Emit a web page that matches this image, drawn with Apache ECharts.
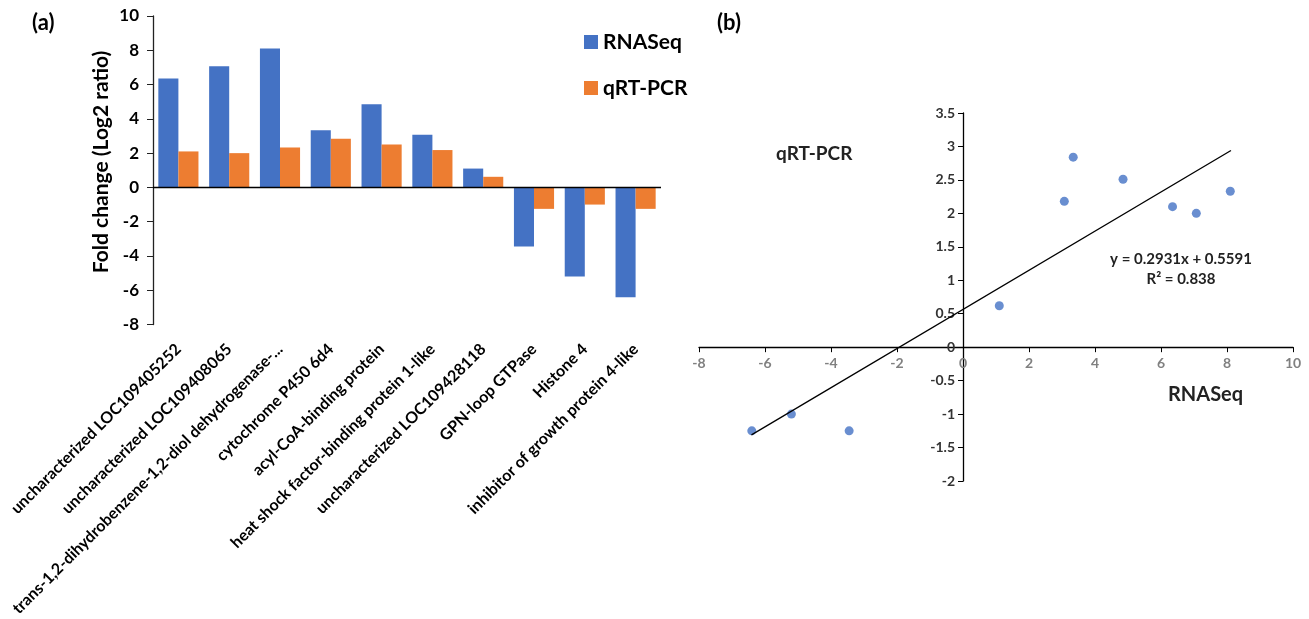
<!DOCTYPE html>
<html>
<head>
<meta charset="utf-8">
<script src="https://cdn.jsdelivr.net/npm/echarts@6/dist/echarts.min.js"></script>
<style>
  html, body { margin: 0; padding: 0; background: #fff; }
  #chart { width: 1309px; height: 619px; }
</style>
</head>
<body>
<div id="chart"></div>
<script>
// gene names (panel a)
const genes = [
  'uncharacterized LOC109405252',
  'uncharacterized LOC109408065',
  'trans-1,2-dihydrobenzene-1,2-diol dehydrogenase-...',
  'cytochrome P450 6d4',
  'acyl-CoA-binding protein',
  'heat shock factor-binding protein 1-like',
  'uncharacterized LOC109428118',
  'GPN-loop GTPase',
  'Histone 4',
  'inhibitor of growth protein 4-like'
];
// log2 fold change
const rnaSeq = [6.35, 7.07, 8.1, 3.34, 4.85, 3.07, 1.1, -3.45, -5.2, -6.4];
const qrtPcr = [2.1, 2.0, 2.33, 2.84, 2.51, 2.18, 0.62, -1.25, -1.0, -1.25];
// trend line end points (panel b)
const trendX = [-6.41, 8.12];
const trendY = [-1.31, 2.94];

const FONT = 'Lato';
const BLUE = '#4472C4';
const ORANGE = '#ED7D31';

// panel b plot box; axes cross at 0 so shift them in from the edges
const B = { left: 699, top: 113, width: 594, height: 368 };
const bxMin = -8, bxMax = 10, byMin = -2, byMax = 3.5;
const yAxisShift = B.width * (0 - bxMin) / (bxMax - bxMin);
const xAxisShift = B.height * (0 - byMin) / (byMax - byMin);

const chart = echarts.init(document.getElementById('chart'));

const option = {
  animation: false,
  textStyle: { fontFamily: FONT },
  legend: {
    data: ['RNASeq', 'qRT-PCR'],
    orient: 'vertical',
    left: 584,
    top: 31,
    padding: 0,
    itemWidth: 14,
    itemHeight: 14,
    itemGap: 24,
    icon: 'rect',
    textStyle: { fontFamily: FONT, fontSize: 21, fontWeight: 'bold', color: '#000', lineHeight: 22 }
  },
  grid: [
    { left: 153, top: 16, width: 508, height: 311 },
    B
  ],
  xAxis: [
    {
      type: 'category',
      gridIndex: 0,
      data: genes,
      axisLine: { show: false },
      axisTick: { show: false },
      axisLabel: {
        interval: 0,
        rotate: 45,
        margin: 22,
        fontFamily: FONT,
        fontSize: 16,
        fontWeight: 'bold',
        color: '#000'
      }
    },
    {
      type: 'value',
      gridIndex: 1,
      min: bxMin,
      max: bxMax,
      interval: 2,
      position: 'bottom',
      offset: -xAxisShift,
      axisLine: { onZero: false, lineStyle: { color: '#000', width: 1.3 } },
      axisTick: { length: 5, lineStyle: { color: '#000' } },
      axisLabel: { fontFamily: FONT, fontSize: 14, fontWeight: 'bold', color: '#808080', margin: 9 },
      splitLine: { show: false }
    }
  ],
  yAxis: [
    {
      type: 'value',
      gridIndex: 0,
      min: -8,
      max: 10,
      interval: 2,
      axisLine: { show: true, onZero: false, lineStyle: { color: '#222', width: 1.3 } },
      axisTick: { show: true, length: 6, lineStyle: { color: '#222' } },
      axisLabel: { fontFamily: FONT, fontSize: 17, fontWeight: 'bold', color: '#000', margin: 14 },
      splitLine: { show: false }
    },
    {
      type: 'value',
      gridIndex: 1,
      min: byMin,
      max: byMax,
      interval: 0.5,
      position: 'left',
      offset: -yAxisShift,
      axisLine: { onZero: false, lineStyle: { color: '#000', width: 1.3 } },
      axisTick: { length: 5, lineStyle: { color: '#000' } },
      axisLabel: { fontFamily: FONT, fontSize: 14, fontWeight: 'bold', color: '#333', margin: 8 },
      splitLine: { show: false }
    }
  ],
  series: [
    {
      name: 'RNASeq',
      type: 'bar',
      xAxisIndex: 0,
      yAxisIndex: 0,
      data: rnaSeq,
      barGap: 0,
      barCategoryGap: '21%',
      itemStyle: { color: BLUE },
      markLine: {
        silent: true,
        symbol: 'none',
        label: { show: false },
        lineStyle: { color: '#000', width: 1.3, type: 'solid' },
        data: [{ yAxis: 0 }]
      }
    },
    {
      name: 'qRT-PCR',
      type: 'bar',
      xAxisIndex: 0,
      yAxisIndex: 0,
      data: qrtPcr,
      itemStyle: { color: ORANGE }
    },
    {
      name: 'scatter',
      type: 'scatter',
      xAxisIndex: 1,
      yAxisIndex: 1,
      symbolSize: 9,
      data: rnaSeq.map((v, i) => [v, qrtPcr[i]]),
      itemStyle: { color: BLUE }
    },
    {
      name: 'trend',
      type: 'line',
      xAxisIndex: 1,
      yAxisIndex: 1,
      symbol: 'none',
      data: trendX.map((v, i) => [v, trendY[i]]),
      lineStyle: { color: '#000', width: 1.3 }
    }
  ],
  graphic: [
    { type: 'text', left: 32, top: 12, style: { text: '(a)', font: 'bold 22px Lato', fill: '#000' } },
    { type: 'text', left: 717, top: 12, style: { text: '(b)', font: 'bold 22px Lato', fill: '#000' } },
    {
      // y axis title of panel a
      type: 'text', x: 101, y: 162, rotation: Math.PI / 2,
      style: { text: 'Fold change (Log2 ratio)', font: 'bold 21px Lato', fill: '#000', align: 'center', verticalAlign: 'middle' }
    },
    { type: 'text', left: 776, top: 144, style: { text: 'qRT-PCR', font: 'bold 19px Lato', fill: '#222' } },
    { type: 'text', left: 1168, top: 385, style: { text: 'RNASeq', font: 'bold 20px Lato', fill: '#222' } },
    {
      type: 'text', x: 1181, y: 249,
      style: {
        text: 'y = 0.2931x + 0.5591\nR² = 0.838',
        font: 'bold 15px Lato',
        lineHeight: 20,
        align: 'center',
        fill: '#222'
      }
    }
  ]
};

chart.setOption(option);
</script>
</body>
</html>
